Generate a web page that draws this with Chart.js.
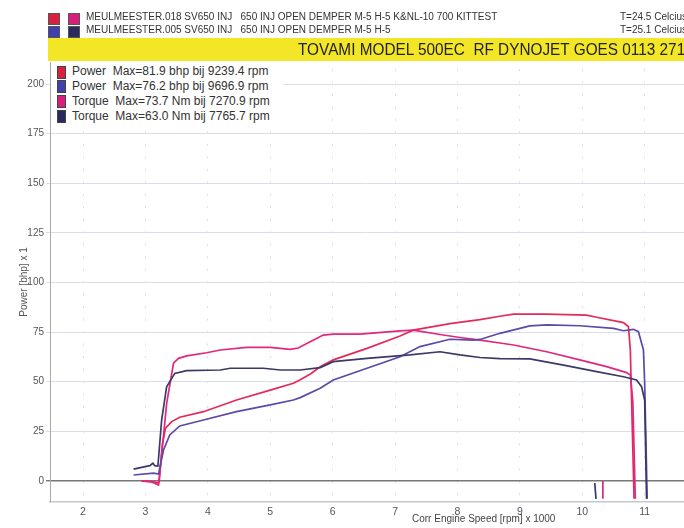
<!DOCTYPE html>
<html>
<head>
<meta charset="utf-8">
<script src="https://cdn.jsdelivr.net/npm/chart.js@4.4.0/dist/chart.umd.min.js"></script>
<style>
  html, body { margin: 0; padding: 0; background: #fff; }
  #wrap { position: relative; width: 684px; height: 528px; overflow: hidden; font-family: "Liberation Sans", Arial, sans-serif; }
  #chart { position: absolute; left: 0; top: 0; }
  .sq { position: absolute; width: 10px; height: 10px; border: 1px solid #555; }
  .hdr { position: absolute; white-space: nowrap; font-family: "Liberation Sans Narrow", "Arial Narrow", "Liberation Sans", sans-serif; font-size: 10px; color: #333; }
  #yellow { position: absolute; left: 48px; top: 38px; width: 640px; height: 23px; background: #f3e626; overflow: hidden; }
  #yellow span { position: absolute; left: 250px; top: 2px; white-space: nowrap; font-family: "Liberation Sans", sans-serif; font-size: 16.5px; color: #222; transform: scaleX(0.93); transform-origin: 0 0; }
  #legend { position: absolute; left: 51px; top: 63px; width: 232px; height: 63px; background: #fff; }
  .li { position: absolute; left: 21px; white-space: nowrap; font-size: 12px; color: #333; }
  .lsq { position: absolute; left: 6px; width: 7px; height: 11px; border: 1px solid #444; }
  #xtitle { position: absolute; left: 412px; top: 513px; white-space: nowrap; font-size: 10px; color: #444; }
</style>
</head>
<body>
<div id="wrap">
  <canvas id="chart" width="684" height="528"></canvas>

  <div class="sq" style="left:48px;top:13px;background:#d8213f"></div>
  <div class="sq" style="left:68px;top:13px;background:#d81f7c"></div>
  <div class="sq" style="left:48px;top:26px;background:#3f3fae"></div>
  <div class="sq" style="left:68px;top:26px;background:#2b2a5e"></div>
  <div class="hdr" style="left:86px;top:11px">MEULMEESTER.018 SV650 INJ &nbsp; 650 INJ OPEN DEMPER M-5 H-5 K&amp;NL-10 700 KITTEST</div>
  <div class="hdr" style="left:86px;top:24px">MEULMEESTER.005 SV650 INJ &nbsp; 650 INJ OPEN DEMPER M-5 H-5</div>
  <div class="hdr" style="left:620px;top:11px">T=24.5 Celcius</div>
  <div class="hdr" style="left:620px;top:24px">T=25.1 Celcius</div>
  <div id="yellow"><span>TOVAMI MODEL 500EC &nbsp;RF DYNOJET GOES 0113 2717</span></div>

  <div id="legend">
    <div class="lsq" style="top:3px;background:#d8213f"></div>
    <div class="li" style="top:1px">Power &nbsp;Max=81.9 bhp bij 9239.4 rpm</div>
    <div class="lsq" style="top:17px;background:#3f3fae"></div>
    <div class="li" style="top:16px">Power &nbsp;Max=76.2 bhp bij 9696.9 rpm</div>
    <div class="lsq" style="top:32px;background:#d81f7c"></div>
    <div class="li" style="top:31px">Torque &nbsp;Max=73.7 Nm bij 7270.9 rpm</div>
    <div class="lsq" style="top:47px;background:#2b2a5e"></div>
    <div class="li" style="top:46px">Torque &nbsp;Max=63.0 Nm bij 7765.7 rpm</div>
  </div>

  <div id="xtitle">Corr Engine Speed [rpm] x 1000</div>
</div>

<script>
// Engine speed ticks (x 1000 rpm) and power ticks
const rpmTicks = [2, 3, 4, 5, 6, 7, 8, 9, 10, 11];
const powerTicks = [0, 25, 50, 75, 100, 125, 150, 175, 200];

// Run 1 (MEULMEESTER.018) - power
const power1Rpm = [2.94, 3.10, 3.21, 3.22, 3.27, 3.32, 3.42, 3.55, 3.93, 4.46, 5.00, 5.37, 5.48, 5.65, 5.80, 6.01, 6.55, 7.08, 7.29, 7.88, 8.36, 8.68, 8.90, 9.43, 10.07, 10.23, 10.66, 10.74, 10.77, 10.79, 10.83];
const power1 = [0, -0.3, -1, 0, 18, 26.5, 29.9, 32.1, 34.9, 40.8, 45.8, 49.2, 51, 54, 57.5, 61, 66.8, 73, 76, 79.3, 81.3, 83, 84.1, 84.1, 83.6, 82.5, 79.8, 77.7, 66, 40.8, -9];

// Run 2 (MEULMEESTER.005) - power
const power2Rpm = [2.81, 3.13, 3.21, 3.29, 3.39, 3.55, 3.93, 4.46, 5.00, 5.37, 5.48, 5.80, 6.01, 6.55, 7.08, 7.40, 7.88, 8.25, 8.36, 8.68, 9.16, 9.43, 9.96, 10.50, 10.66, 10.82, 10.90, 10.98, 11.00, 11.04];
const power2 = [3, 3.9, 3.5, 15.6, 23.2, 27.7, 30.7, 34.9, 38.3, 40.8, 42, 46.7, 50.9, 56.8, 62.6, 67.7, 71.4, 71, 71.3, 74.4, 78.1, 78.6, 78.2, 76.9, 75.7, 76.4, 75.2, 66, 49.2, -9];

// Run 1 - torque
const torque1Rpm = [2.94, 3.10, 3.21, 3.22, 3.34, 3.45, 3.53, 3.66, 3.98, 4.20, 4.62, 5.00, 5.32, 5.45, 5.60, 5.85, 6.01, 6.44, 7.08, 7.29, 7.72, 8.04, 8.36, 8.68, 8.90, 9.43, 9.96, 10.39, 10.71, 10.77, 10.81, 10.85];
const torque1 = [0, -0.5, -2, 0.5, 39, 59.3, 61.8, 63, 64.6, 66, 67.3, 67.3, 66.3, 67, 69.5, 73.5, 74, 74, 75.6, 76, 73.8, 72.3, 71, 69.5, 68.5, 65.1, 61, 57.6, 54.6, 53.4, 40, -9];
const torque1TailRpm = [10.33, 10.33];
const torque1Tail = [0, -9];

// Run 2 - torque
const torque2Rpm = [2.81, 3.07, 3.12, 3.15, 3.20, 3.26, 3.34, 3.47, 3.66, 4.20, 4.36, 4.89, 5.16, 5.48, 5.80, 6.01, 6.55, 7.24, 7.72, 8.04, 8.36, 8.68, 9.16, 9.70, 10.23, 10.66, 10.87, 10.95, 11.00, 11.03];
const torque2 = [6, 7.7, 8.9, 7.7, 7.5, 30.7, 47.5, 54.2, 55.6, 55.9, 56.8, 56.8, 55.9, 55.9, 57.1, 60.1, 61.8, 63.5, 65.1, 63.5, 62.2, 61.6, 61.5, 58.4, 55.1, 52.5, 50.9, 47.5, 40.8, -9];
const torque2TailRpm = [10.20, 10.22];
const torque2Tail = [-1, -9];

function pts(xs, ys) {
  return xs.map((x, i) => ({ x: x, y: ys[i] }));
}
function withTail(xs, ys, tx, ty) {
  const main = pts(xs, ys);
  main.push({ x: tx[0], y: null }); // break the line
  return main.concat(pts(tx, ty));
}

const ctx = document.getElementById("chart");

const lineStyle = { pointRadius: 0, borderWidth: 1.7, tension: 0, fill: false, spanGaps: false };

new Chart(ctx, {
  type: "line",
  data: {
    datasets: [
      Object.assign({ label: "Torque run 2", data: withTail(torque2Rpm, torque2, torque2TailRpm, torque2Tail), borderColor: "#3b3969" }, lineStyle),
      Object.assign({ label: "Power run 2", data: pts(power2Rpm, power2), borderColor: "#5b4aa8" }, lineStyle),
      Object.assign({ label: "Torque run 1", data: withTail(torque1Rpm, torque1, torque1TailRpm, torque1Tail), borderColor: "#e0287c" }, lineStyle),
      Object.assign({ label: "Power run 1", data: pts(power1Rpm, power1), borderColor: "#e32a58" }, lineStyle),
    ],
  },
  options: {
    responsive: false,
    animation: false,
    layout: { padding: { top: 62, left: 0, right: 0, bottom: 0 } },
    plugins: {
      legend: { display: false },
      tooltip: { enabled: false },
    },
    scales: {
      x: {
        type: "linear",
        min: 1.471,
        max: 11.63,
        afterBuildTicks: (scale) => { scale.ticks = rpmTicks.map(v => ({ value: v })); },
        afterFit: (scale) => { scale.height = 26; },
        grid: { color: "#d9dee8", lineWidth: 1, drawTicks: false },
        // dotted minor marks every 200 rpm along the bottom edge
        border: { display: true, color: "#c4c8d0", width: 1.5, dash: [2, 10.48], dashOffset: 5.48 },
        ticks: { color: "#555", font: { family: "Liberation Sans", size: 10.5 }, padding: 4, maxRotation: 0 },
      },
      y: {
        min: -10.6,
        max: 211.1,
        afterBuildTicks: (scale) => { scale.ticks = powerTicks.map(v => ({ value: v })); },
        afterFit: (scale) => { scale.width = 50; },
        grid: {
          color: (c) => (c.tick && c.tick.value === 0 ? "#777" : "#d9dee8"),
          lineWidth: (c) => (c.tick && c.tick.value === 0 ? 1.4 : 1),
          tickLength: 4,
        },
        border: { display: true, color: "#aaa" },
        ticks: { color: "#555", font: { family: "Liberation Sans", size: 10 }, padding: 2 },
        title: {
          display: true,
          text: "Power [bhp] x 1",
          color: "#555",
          font: { family: "Liberation Sans", size: 10 },
          padding: { top: 18, bottom: 0 },
        },
      },
    },
  },
});
</script>
</body>
</html>
